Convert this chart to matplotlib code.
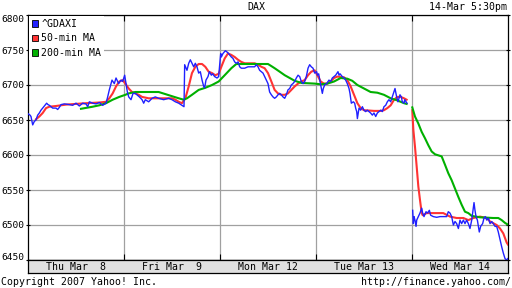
import numpy as np
import matplotlib
matplotlib.use("Agg")
import matplotlib.pyplot as plt
from matplotlib.patches import Rectangle

plt.rcParams['font.family'] = ['DejaVu Sans Mono']
FS = 7.1

# time axis in trading-day units (0 = Thu open, 5 = Wed close); nan = session gap
gdaxi_t = [0.000, 0.021, 0.031, 0.049, 0.066, 0.083, 0.101, 0.118, 0.135, 0.170,
           0.194, 0.208, 0.222, 0.257, 0.292, 0.309, 0.326, 0.344, 0.378, 0.431,
           0.465, 0.500, 0.535, 0.569, 0.604, 0.622, 0.639, 0.674, 0.708, 0.743,
           0.778, 0.813, 0.830, 0.847, 0.875, 0.899, 0.917, 0.944, 0.969, 0.986,
           1.007, 1.021, 1.035, 1.049, 1.073, 1.094, 1.118, 1.135, 1.160, 1.188,
           1.205, 1.222, 1.257, 1.292, 1.326, 1.361, 1.413, 1.465, 1.500, 1.535,
           1.570, 1.604, 1.625, 1.632, 1.656, 1.674, 1.691, 1.708, 1.726, 1.743,
           1.760, 1.778, 1.795, 1.813, 1.830, 1.840, 1.854, 1.875, 1.889, 1.910,
           1.924, 1.944, 1.969, 1.986,
           2.007, 2.014, 2.031, 2.056, 2.083, 2.101, 2.118, 2.135, 2.153, 2.170,
           2.188, 2.205, 2.222, 2.257, 2.292, 2.326, 2.361, 2.378, 2.396, 2.413,
           2.431, 2.448, 2.465, 2.483, 2.500, 2.517, 2.535, 2.552, 2.569, 2.587,
           2.604, 2.622, 2.639, 2.656, 2.674, 2.691, 2.708, 2.726, 2.743, 2.760,
           2.778, 2.795, 2.813, 2.830, 2.847, 2.865, 2.882, 2.899, 2.917, 2.934,
           2.951, 2.969, 2.986,
           3.007, 3.014, 3.028, 3.042, 3.056, 3.066, 3.076, 3.090, 3.111, 3.135,
           3.153, 3.170, 3.188, 3.205, 3.229, 3.240, 3.250, 3.274, 3.292, 3.309,
           3.326, 3.344, 3.354, 3.368, 3.389, 3.403, 3.413, 3.424, 3.431, 3.448,
           3.465, 3.483, 3.500, 3.517, 3.535, 3.552, 3.569, 3.587, 3.604, 3.622,
           3.639, 3.656, 3.674, 3.691, 3.708, 3.726, 3.743, 3.760, 3.778, 3.795,
           3.813, 3.823, 3.840, 3.854, 3.875, 3.889, 3.899, 3.917, 3.924, 3.938,
           3.948, np.nan,
           4.007, 4.014, 4.021, 4.031, 4.042, 4.049, 4.066, 4.083, 4.101, 4.111,
           4.125, 4.146, 4.160, 4.181, 4.194, 4.222, 4.257, 4.292, 4.326, 4.361,
           4.378, 4.396, 4.413, 4.431, 4.448, 4.465, 4.483, 4.500, 4.517, 4.535,
           4.552, 4.569, 4.587, 4.604, 4.622, 4.632, 4.646, 4.656, 4.667, 4.681,
           4.701, 4.715, 4.736, 4.750, 4.764, 4.778, 4.795, 4.813, 4.830, 4.847,
           4.865, 4.882, 4.899, 4.917, 4.934, 4.951, 4.969, 4.986, 4.997]
gdaxi_v = [6659, 6657, 6655, 6643, 6648, 6650, 6657, 6660, 6664, 6670,
           6674, 6672, 6671, 6667, 6667, 6665, 6668, 6672, 6673, 6672,
           6671, 6674, 6670, 6674, 6673, 6669, 6676, 6674, 6673, 6675,
           6671, 6674, 6683, 6693, 6707, 6702, 6710, 6702, 6707, 6705,
           6714, 6702, 6690, 6683, 6679, 6688, 6688, 6686, 6683, 6679,
           6674, 6679, 6676, 6681, 6683, 6681, 6679, 6681, 6679, 6676,
           6674, 6671, 6669, 6729, 6721, 6731, 6736, 6731, 6726, 6731,
           6726, 6717, 6719, 6707, 6698, 6696, 6707, 6712, 6719, 6714,
           6716, 6712, 6710, 6712,
           6745, 6740, 6745, 6749, 6746, 6743, 6740, 6738, 6733, 6731,
           6733, 6726, 6724, 6724, 6726, 6726, 6726, 6729, 6726, 6721,
           6719, 6717, 6712, 6707, 6702, 6690, 6686, 6683, 6681, 6683,
           6686, 6688, 6686, 6683, 6681, 6686, 6693, 6695, 6700, 6702,
           6705, 6710, 6714, 6712, 6705, 6702, 6705, 6712, 6724, 6729,
           6726, 6724, 6717,
           6719, 6714, 6716, 6705, 6695, 6688, 6695, 6700, 6702, 6707,
           6705, 6710, 6712, 6714, 6719, 6714, 6716, 6712, 6710, 6707,
           6702, 6695, 6688, 6674, 6676, 6674, 6667, 6662, 6652, 6667,
           6664, 6669, 6664, 6662, 6664, 6662, 6660, 6657, 6660, 6655,
           6660, 6662, 6664, 6662, 6669, 6671, 6676, 6679, 6676, 6683,
           6690, 6695, 6683, 6676, 6686, 6683, 6676, 6674, 6679, 6676,
           6674, np.nan,
           6521, 6502, 6512, 6507, 6498, 6507, 6512, 6517, 6524, 6517,
           6512, 6519, 6517, 6521, 6514, 6512, 6511, 6512, 6512, 6512,
           6519, 6517, 6512, 6500, 6505, 6502, 6495, 6507, 6502, 6507,
           6502, 6507, 6502, 6495, 6507, 6517, 6532, 6521, 6512, 6507,
           6490, 6498, 6502, 6510, 6512, 6507, 6510, 6502, 6505, 6502,
           6498, 6498, 6490, 6479, 6469, 6460, 6452, 6450, 6452]

ma50_t = [0.083, 0.118, 0.153, 0.188, 0.222, 0.292, 0.396, 0.500, 0.604, 0.743,
          0.813, 0.847, 0.882, 0.917, 0.951, 0.986,
          1.014, 1.049, 1.083, 1.118, 1.153, 1.188, 1.257, 1.500, 1.535, 1.570,
          1.604, 1.639, 1.674, 1.708, 1.743, 1.778, 1.813, 1.847, 1.882, 1.917,
          1.951, 1.986,
          2.014, 2.049, 2.083, 2.118, 2.153, 2.188, 2.222, 2.257, 2.361, 2.396,
          2.431, 2.465, 2.500, 2.535, 2.569, 2.604, 2.639, 2.674, 2.708, 2.743,
          2.778, 2.813, 2.847, 2.882, 2.917, 2.951, 2.986,
          3.014, 3.049, 3.083, 3.118, 3.153, 3.188, 3.222, 3.292, 3.326, 3.361,
          3.396, 3.431, 3.465, 3.500, 3.604, 3.674, 3.708, 3.743, 3.778, 3.813,
          3.847, 3.882, 3.917, 3.944, np.nan,
          4.003, 4.014, 4.031, 4.049, 4.066, 4.083, 4.101, 4.111, 4.153, 4.326,
          4.396, 4.465, 4.535, 4.587, 4.639, 4.708, 4.778, 4.813, 4.882, 4.917,
          4.951, 4.986, 5.000]
ma50_v = [6651, 6655, 6660, 6667, 6669, 6670, 6672, 6673, 6674, 6675,
          6676, 6681, 6688, 6698, 6705, 6707,
          6702, 6695, 6690, 6688, 6686, 6683, 6681, 6681, 6679, 6676,
          6674, 6681, 6698, 6717, 6726, 6730, 6730, 6726, 6719, 6717,
          6714, 6716,
          6726, 6738, 6745, 6743, 6740, 6736, 6733, 6731, 6731, 6729,
          6726, 6724, 6717, 6705, 6693, 6688, 6686, 6686, 6688, 6693,
          6698, 6702, 6705, 6707, 6714, 6719, 6721,
          6714, 6705, 6702, 6702, 6705, 6710, 6712, 6711, 6707, 6698,
          6686, 6674, 6667, 6664, 6663, 6663, 6664, 6667, 6671, 6679,
          6683, 6683, 6681, 6679, np.nan,
          6664, 6636, 6612, 6583, 6555, 6536, 6517, 6514, 6517, 6517,
          6512, 6510, 6510, 6507, 6510, 6512, 6510, 6505, 6500, 6495,
          6488, 6475, 6472]

ma200_t = [0.552, 0.674, 0.743, 0.813, 0.882, 0.951,
           1.014, 1.049, 1.118, 1.361, 1.431, 1.500, 1.570, 1.622, 1.656, 1.708,
           1.778, 1.847, 1.917, 1.986,
           2.049, 2.118, 2.170, 2.500, 2.535, 2.569, 2.622, 2.674, 2.726, 2.778,
           2.847, 2.986,
           3.049, 3.118, 3.188, 3.257, 3.326, 3.378, 3.431, 3.500, 3.569, 3.639,
           3.708, 3.778, 3.847, 3.917, 3.944, np.nan,
           4.003, 4.031, 4.066, 4.101, 4.135, 4.170, 4.205, 4.240, 4.309, 4.344,
           4.378, 4.413, 4.448, 4.483, 4.517, 4.552, 4.587, 4.622, 4.708, 4.847,
           4.899, 4.934, 4.969, 4.993]
ma200_v = [6666, 6669, 6671, 6674, 6679, 6683,
           6686, 6688, 6690, 6690, 6687, 6684, 6681, 6679, 6681, 6686,
           6693, 6696, 6700, 6705,
           6714, 6724, 6730, 6730, 6727, 6724, 6719, 6714, 6710, 6706,
           6703, 6702,
           6701, 6702, 6705, 6710, 6709, 6706, 6700, 6695, 6690, 6689,
           6686, 6681, 6678, 6674, 6673, np.nan,
           6668, 6655, 6645, 6633, 6624, 6614, 6605, 6601, 6598, 6586,
           6574, 6564, 6552, 6540, 6529, 6519, 6517, 6513, 6511, 6510,
           6510, 6507, 6503, 6501]

day_labels = ["Thu Mar  8", "Fri Mar  9", "Mon Mar 12", "Tue Mar 13", "Wed Mar 14"]
y_ticks = [6450, 6500, 6550, 6600, 6650, 6700, 6750, 6800]

fig = plt.figure(figsize=(5.12, 2.88), dpi=100)
ax = fig.add_axes([28 / 512, 28 / 288, 480 / 512, 245 / 288])
band = fig.add_axes([28 / 512, 15 / 288, 480 / 512, 13 / 288])

ax.plot(ma50_t, ma50_v, color='#ff3333', lw=1.5, zorder=3)
ax.plot(ma200_t, ma200_v, color='#00b000', lw=1.5, zorder=3)
ax.plot(gdaxi_t, gdaxi_v, color='#2020ff', lw=1.0, zorder=4)

ax.set_xlim(0, len(day_labels))
ax.set_ylim(y_ticks[0], y_ticks[-1])
ax.set_xticks(range(1, len(day_labels)))
ax.set_yticks(y_ticks)
ax.set_xticklabels([])
ax.grid(True, color='#a0a0a0', lw=0.9, zorder=0)
ax.tick_params(axis='x', direction='in', length=4, width=0.8, top=True, bottom=True)
ax.tick_params(axis='y', direction='inout', length=3, width=0.8, left=True, right=True,
               labelsize=6.8, pad=0.8)
for sp in ax.spines.values():
    sp.set_linewidth(0.9)

ylabels = ax.get_yticklabels()
ylabels[-1].set_verticalalignment('top')
ylabels[0].set_verticalalignment('baseline')

handles = [Rectangle((0, 0), 1, 1, facecolor=c, edgecolor='black', lw=0.6)
           for c in ['#2020ff', '#ff3333', '#00b000']]
leg = ax.legend(handles, ['^GDAXI', '50-min MA', '200-min MA'], loc='upper left',
                fontsize=FS, frameon=True, fancybox=False, framealpha=1,
                edgecolor='none', borderpad=0.25, borderaxespad=0.15,
                handlelength=0.65, handleheight=0.65, handletextpad=0.3,
                labelspacing=0.45)
leg.set_zorder(5)

band.set_facecolor('#e0e0e0')
band.set_xlim(0, len(day_labels))
band.set_ylim(0, 1)
band.set_xticks([])
band.set_yticks([])
for sp in band.spines.values():
    sp.set_linewidth(0.9)
for i, lab in enumerate(day_labels):
    band.text(i + 0.5, 0.45, lab, ha='center', va='center', fontsize=FS)

fig.text(256 / 512, 1 - 7 / 288, 'DAX', ha='center', va='center', fontsize=FS)
fig.text(507 / 512, 1 - 7 / 288, '14-Mar 5:30pm', ha='right', va='center', fontsize=FS)
fig.text(1 / 512, 1 - 282 / 288, 'Copyright 2007 Yahoo! Inc.', ha='left', va='center',
         fontsize=FS)
fig.text(511 / 512, 1 - 282 / 288, 'http://finance.yahoo.com/', ha='right', va='center',
         fontsize=FS)

fig.savefig('out.png', dpi=100, facecolor='white')
